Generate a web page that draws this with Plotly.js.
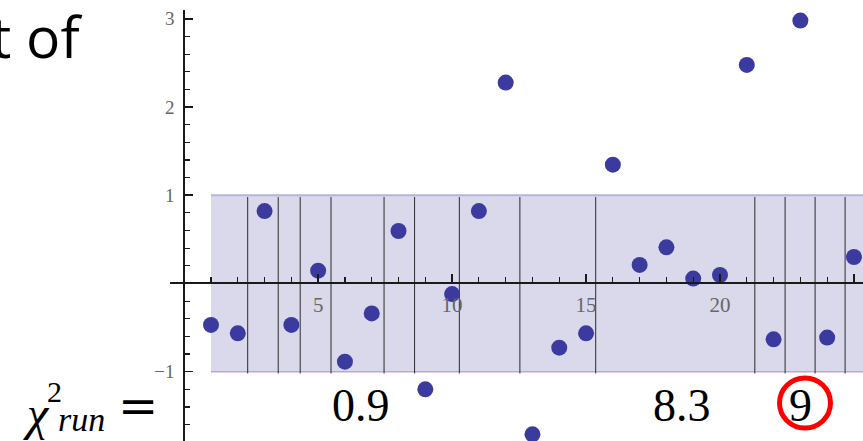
<!DOCTYPE html>
<html>
<head>
<meta charset="utf-8">
<script src="https://cdn.plot.ly/plotly-3.0.1.min.js"></script>
<style>html,body{margin:0;padding:0;background:#fff;overflow:hidden}#chart{width:863px;height:441px}</style>
</head>
<body>
<div id="chart"></div>
<script>
// ---- data ----
const pointIndex = [1,2,3,4,5,6,7,8,9,10,11,12,13,14,15,16,17,18,19,20,21,22,23,24,25];
const residuals = [-0.47,-0.565,0.82,-0.47,0.145,-0.887,-0.34,0.595,-1.2,-0.12,0.82,2.277,-1.71,-0.728,-0.565,1.347,0.21,0.41,0.055,0.096,2.477,-0.633,2.98,-0.614,0.30];
const runBoundaries = [2.37,3.51,4.33,5.48,7.46,8.60,10.27,12.53,15.36,21.30,22.43,23.55,24.67];
const bandX = [1, 26];
const bandLow = -1, bandHigh = 1;
const xTickVals = [5,10,15,20,25];
const yTickVals = [-1,1,2,3];
const chiLabels = ["0.9","8.3","9"];
const titleFragment = "t of";

// ---- helpers (layout only) ----
const W = 863, H = 441;
const px = v => v / W;
const py = v => 1 - v / H;

const vx = [], vy = [];
runBoundaries.forEach(b => { vx.push(b, b, null); vy.push(bandHigh - 0.02, bandLow - 0.02, null); });

const traces = [
  {x: bandX, y: bandX.map(() => bandLow), mode: 'lines', line: {color: '#c9a3c9', width: 1.5}, hoverinfo: 'skip', showlegend: false},
  {x: bandX, y: bandX.map(() => bandHigh), mode: 'lines', fill: 'tonexty', fillcolor: '#d9d9eb', line: {color: '#b3b3dc', width: 2}, hoverinfo: 'skip', showlegend: false},
  {x: vx, y: vy, mode: 'lines', line: {color: '#2a2a2a', width: 1}, hoverinfo: 'skip', showlegend: false},
  {x: pointIndex, y: residuals, mode: 'markers', marker: {color: '#3b3b9f', size: 16}, cliponaxis: false, showlegend: false}
];

const SERIF = 'Liberation Serif';

function ann(text, x, y, size, family, extra) {
  return Object.assign({text: text, x: px(x), y: py(y), xref: 'paper', yref: 'paper', xanchor: 'center', yanchor: 'middle', showarrow: false, font: {family: family, size: size, color: '#000'}}, extra || {});
}

const chiX = [361, 682, 800];
const annotations = [
  ann(titleFragment, 84, 36, 57, 'Open Sans', {xanchor: 'right'}),
  ann('<i>χ</i>', 36, 413, 48, SERIF),
  ann('2', 54, 391, 30, SERIF),
  ann('<i>run</i>', 81, 419, 34, SERIF),
  ann('=', 138, 406, 48, 'DejaVu Serif')
];
chiLabels.forEach((t, i) => annotations.push(ann(t, chiX[i], 405, 46, SERIF)));

const layout = {
  width: W, height: H,
  margin: {l: 0, r: 0, t: 0, b: 0, pad: 0},
  paper_bgcolor: '#fff', plot_bgcolor: 'rgba(0,0,0,0)',
  showlegend: false,
  xaxis: {
    domain: [px(170), 1], range: [-0.53, 25.338], anchor: 'free', position: 0.35724,
    showgrid: false, zeroline: false, showline: true, linecolor: '#1a1a1a', linewidth: 2,
    tickmode: 'array', tickvals: xTickVals, ticks: 'inside', ticklen: 8, tickwidth: 1.5, tickcolor: '#1a1a1a',
    minor: {dtick: 1, tick0: 0, ticks: 'inside', ticklen: 5, tickwidth: 1.2, tickcolor: '#1a1a1a', showgrid: false},
    tickfont: {family: SERIF, size: 21, color: '#666'}, ticklabelstandoff: 2
  },
  yaxis: {
    domain: [0, 1 - 10 / H], range: [-1.786, 3.1], anchor: 'free', position: px(184.2),
    showgrid: false, zeroline: false, showline: true, linecolor: '#1a1a1a', linewidth: 2,
    tickmode: 'array', tickvals: yTickVals, ticks: 'inside', ticklen: 8, tickwidth: 1.5, tickcolor: '#1a1a1a',
    minor: {dtick: 0.2, tick0: 0, ticks: 'inside', ticklen: 5, tickwidth: 1.2, tickcolor: '#1a1a1a', showgrid: false},
    tickfont: {family: SERIF, size: 19, color: '#666'}, ticklabelstandoff: 5
  },
  annotations: annotations,
  shapes: [
    {type: 'circle', xref: 'paper', yref: 'paper', x0: px(779.5), x1: px(830.5), y0: py(428), y1: py(378), line: {color: '#ff0000', width: 5}, fillcolor: 'rgba(0,0,0,0)'}
  ]
};

Plotly.newPlot('chart', traces, layout, {staticPlot: true, displayModeBar: false});
</script>
</body>
</html>
